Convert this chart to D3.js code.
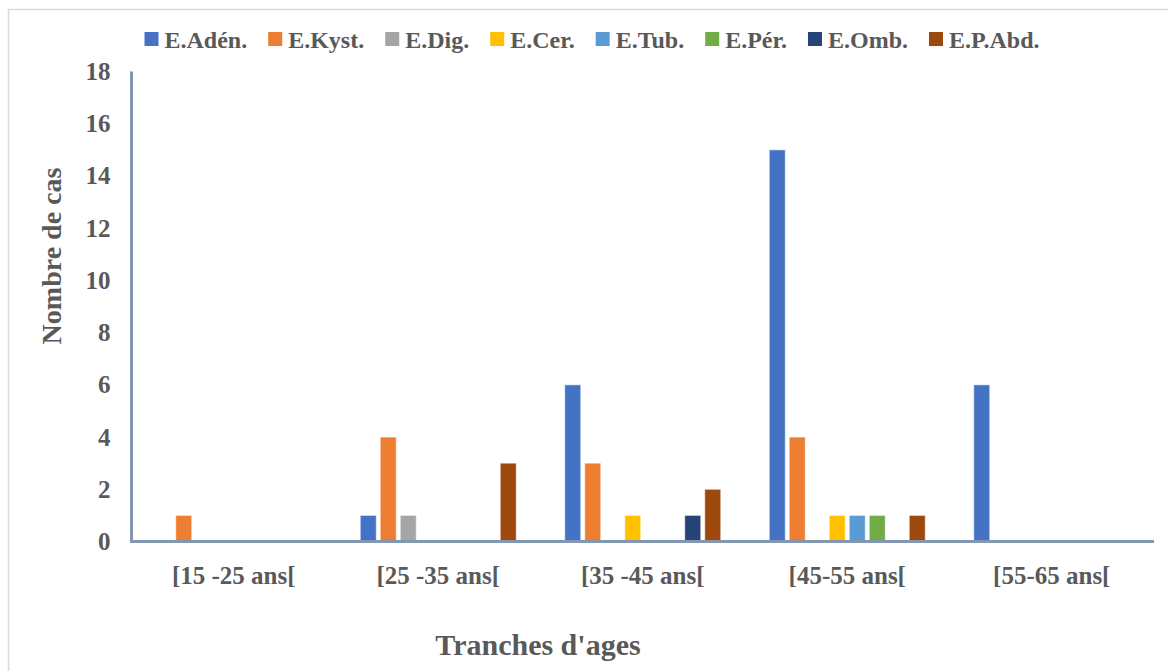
<!DOCTYPE html>
<html>
<head>
<meta charset="utf-8">
<script src="https://cdn.jsdelivr.net/npm/d3@7"></script>
<style>
  html, body { margin: 0; padding: 0; background: #fff; }
  svg { display: block; }
  text { font-family: "Liberation Serif", "Times New Roman", serif; font-weight: bold; fill: #595959; }
</style>
</head>
<body>
<svg id="chart" width="1168" height="671"></svg>
<script>
// Age brackets (x categories)
const categories = ["[15 -25 ans[", "[25 -35 ans[", "[35 -45 ans[", "[45-55 ans[", "[55-65 ans["];

// Series names and case counts per age bracket
const seriesNames = ["E.Adén.", "E.Kyst.", "E.Dig.", "E.Cer.", "E.Tub.", "E.Pér.", "E.Omb.", "E.P.Abd."];
const adenValues  = [0, 1, 6, 15, 6];
const kystValues  = [1, 4, 3, 4, 0];
const digValues   = [0, 1, 0, 0, 0];
const cerValues   = [0, 0, 1, 1, 0];
const tubValues   = [0, 0, 0, 1, 0];
const perValues   = [0, 0, 0, 1, 0];
const ombValues   = [0, 0, 1, 0, 0];
const pabdValues  = [0, 3, 2, 1, 0];
const seriesColors = ["#4472c4", "#ed7d31", "#a5a5a5", "#ffc000", "#5b9bd5", "#70ad47", "#264478", "#9e480e"];

// Y axis ticks
const yTicks = [0, 2, 4, 6, 8, 10, 12, 14, 16, 18];

const seriesValues = [adenValues, kystValues, digValues, cerValues, tubValues, perValues, ombValues, pabdValues];
const table = categories.map((c, i) => ({
  category: c,
  values: seriesNames.map((s, k) => ({ series: s, value: seriesValues[k][i], color: seriesColors[k] }))
}));

const svg = d3.select("#chart");

// Outer chart frame
svg.append("rect")
  .attr("x", 8.5).attr("y", 9.5)
  .attr("width", 1200).attr("height", 700)
  .attr("fill", "none").attr("stroke", "#d9d9d9").attr("stroke-width", 1.5);

const plot = { left: 131.5, right: 1154, top: 71.5, bottom: 541.5 };

const x0 = d3.scaleBand().domain(categories).range([plot.left, plot.right]).padding(0);
const inner = 160;
const x1 = d3.scaleBand().domain(seriesNames)
  .range([(x0.bandwidth() - inner) / 2, (x0.bandwidth() + inner) / 2])
  .paddingInner(0.2).paddingOuter(0.1);
const y = d3.scaleLinear().domain([0, 18]).range([plot.bottom, plot.top]);

// Bars
const groups = svg.append("g").selectAll("g")
  .data(table).join("g")
  .attr("transform", d => `translate(${x0(d.category)},0)`);

groups.selectAll("rect")
  .data(d => d.values.filter(v => v.value > 0))
  .join("rect")
  .attr("x", d => x1(d.series))
  .attr("y", d => y(d.value))
  .attr("width", x1.bandwidth())
  .attr("height", d => y(0) - y(d.value))
  .attr("fill", d => d.color)
  .attr("stroke", "#ffffff").attr("stroke-opacity", 0.55).attr("stroke-width", 1);

// Y axis
const yAxis = d3.axisLeft(y).tickValues(yTicks).tickSize(0).tickPadding(21);
const yg = svg.append("g").attr("transform", `translate(${plot.left},0)`).call(yAxis);
yg.select(".domain").remove();
yg.selectAll("text")
  .attr("font-size", 25).attr("fill", "#595959")
  .attr("font-family", "Liberation Serif, serif").attr("font-weight", "bold")
  .attr("dy", "0.32em");

// X axis
const xAxis = d3.axisBottom(x0).tickSize(0).tickPadding(25);
const xg = svg.append("g").attr("transform", `translate(0,${plot.bottom})`).call(xAxis);
xg.select(".domain").remove();
xg.selectAll("text")
  .attr("font-size", 25).attr("fill", "#595959")
  .attr("font-family", "Liberation Serif, serif").attr("font-weight", "bold");

// Axis lines
svg.append("path")
  .attr("d", `M${plot.left},${plot.top}V${plot.bottom}H${plot.right}`)
  .attr("fill", "none").attr("stroke", "#8497b0").attr("stroke-width", 3);

// Axis titles
svg.append("text")
  .attr("transform", "translate(61,256) rotate(-90)")
  .attr("text-anchor", "middle")
  .attr("font-size", 28)
  .text("Nombre de cas");

svg.append("text")
  .attr("x", 538).attr("y", 655)
  .attr("text-anchor", "middle")
  .attr("font-size", 30)
  .text("Tranches d'ages");

// Legend
const legend = svg.append("g");
let lx = 0;
seriesNames.forEach((name, k) => {
  const item = legend.append("g").attr("transform", `translate(${lx},0)`);
  item.append("rect").attr("x", 0).attr("y", 32).attr("width", 14).attr("height", 14).attr("fill", seriesColors[k]);
  const t = item.append("text").attr("x", 20).attr("y", 47.5).attr("font-size", 24).text(name);
  lx += 20 + t.node().getComputedTextLength() + 21;
});
const legendWidth = lx - 21;
legend.attr("transform", `translate(${592 - legendWidth / 2},0)`);
</script>
</body>
</html>
